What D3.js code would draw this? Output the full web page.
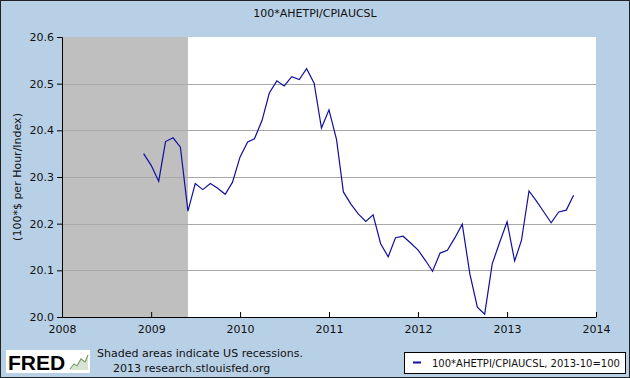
<!DOCTYPE html>
<html>
<head>
<script src="https://d3js.org/d3.v7.min.js"></script>
<style>
body { margin: 0; background: #b8d0e6; }
svg { display: block; font-family: "DejaVu Sans", Verdana, sans-serif; }
</style>
</head>
<body>
<svg id="chart" width="630" height="378"></svg>
<script>
// monthly values, Dec 2008 .. Oct 2013
const startMonth = "2008-12"
const values = [
  20.350,
  20.325, 20.291, 20.376, 20.384, 20.364, 20.227, 20.286, 20.273, 20.286, 20.276, 20.263, 20.289,
  20.343, 20.375, 20.382, 20.421, 20.480, 20.506, 20.495, 20.515, 20.509, 20.532, 20.501, 20.405,
  20.444, 20.380, 20.268, 20.242, 20.221, 20.205, 20.219, 20.157, 20.129, 20.170, 20.173, 20.159,
  20.144, 20.121, 20.098, 20.137, 20.143, 20.170, 20.199, 20.093, 20.021, 20.006, 20.114, 20.159,
  20.204, 20.120, 20.164, 20.270, 20.249, 20.225, 20.202, 20.225, 20.229, 20.261
]
const yTicks = [20.0, 20.1, 20.2, 20.3, 20.4, 20.5, 20.6]
const xYears = [2008, 2009, 2010, 2011, 2012, 2013, 2014]
const recessions = [["2007-12-01", "2009-06-01"]]

const parse = d3.timeParse("%Y-%m")
const first = parse(startMonth)
const data = values.map((v, i) => ({ date: d3.timeMonth.offset(first, i), value: v }))

const svg = d3.select("#chart")
const W = 630, H = 378
const plotL = 62, plotR = 596, plotT = 37, plotB = 317

// outer frame
svg.append("rect").attr("x", 0.5).attr("y", 0.5).attr("width", W - 1).attr("height", H - 1)
  .attr("fill", "#b8d0e6").attr("stroke", "#222")

const x = d3.scaleTime()
  .domain([new Date(2008, 0, 1), new Date(2014, 0, 1)])
  .range([plotL, plotR])
const y = d3.scaleLinear().domain([20.0, 20.6]).range([plotB, plotT])

svg.append("rect").attr("x", plotL).attr("y", plotT)
  .attr("width", plotR - plotL).attr("height", plotB - plotT).attr("fill", "#fff")

// recession shading
const recStart = d => new Date(Math.max(new Date(d[0]), x.domain()[0]))
svg.selectAll(".rec").data(recessions).enter().append("rect")
  .attr("x", d => x(recStart(d)))
  .attr("width", d => x(new Date(d[1])) - x(recStart(d)))
  .attr("y", plotT).attr("height", plotB - plotT)
  .attr("fill", "#bfbfbf")

// grid lines
svg.selectAll(".grid").data(yTicks.slice(1, -1)).enter().append("line")
  .attr("x1", plotL).attr("x2", plotR)
  .attr("y1", d => Math.round(y(d)) + 0.5).attr("y2", d => Math.round(y(d)) + 0.5)
  .attr("stroke", "#a8a8a8").attr("stroke-width", 1)

// line
const line = d3.line().x(d => x(d.date)).y(d => y(d.value))
svg.append("path").datum(data).attr("d", line)
  .attr("fill", "none").attr("stroke", "#1010a0").attr("stroke-width", 1.2)

// y axis
const yAxis = svg.append("g").attr("transform", `translate(${plotL},0)`)
  .call(d3.axisLeft(y).tickValues(yTicks).tickFormat(d3.format(".1f")).tickSizeOuter(0).tickSize(5))
yAxis.selectAll("text").attr("font-size", 11).attr("fill", "#111").attr("font-family", "DejaVu Sans")
yAxis.selectAll("line, path").attr("stroke", "#000")

// x axis
const xAxis = svg.append("g").attr("transform", `translate(0,${plotB})`)
  .call(d3.axisBottom(x).tickValues(xYears.map(yr => new Date(yr, 0, 1)))
    .tickFormat(d3.timeFormat("%Y")).tickSize(-5).tickSizeOuter(0).tickPadding(6))
xAxis.selectAll("text").attr("font-size", 11).attr("fill", "#111").attr("font-family", "DejaVu Sans")
  .attr("dy", "0.9em")
xAxis.selectAll("line, path").attr("stroke", "#000")

// title and axis label
svg.append("text").attr("x", 315).attr("y", 17).attr("text-anchor", "middle")
  .attr("font-size", 11).attr("fill", "#111").text("100*AHETPI/CPIAUCSL")
svg.append("text").attr("transform", `translate(21,${(plotT + plotB) / 2}) rotate(-90)`)
  .attr("text-anchor", "middle").attr("font-size", 11).attr("fill", "#111")
  .text("(100*$ per Hour/Index)")

// footer
const fred = svg.append("g").attr("transform", "translate(6,350)")
fred.append("rect").attr("width", 84).attr("height", 23).attr("fill", "#fff")
fred.append("text").attr("x", 2).attr("y", 20).attr("font-size", 21).attr("font-weight", "bold")
  .attr("font-family", "Liberation Sans, Arial").attr("fill", "#000").text("FRED")
fred.append("path").attr("d", "M64,20 L68,15 L71,17 L75,10 L79,13 L82,6 L82,20 Z")
  .attr("fill", "#c8d8c0").attr("opacity", 0.7)
fred.append("path").attr("d", "M64,19 L68,14 L71,16 L75,9 L79,12 L82,5")
  .attr("fill", "none").attr("stroke", "#7a9a6a").attr("stroke-width", 1.2)

svg.append("text").attr("x", 97).attr("y", 357).attr("font-size", 11).attr("fill", "#111")
  .text("Shaded areas indicate US recessions.")
svg.append("text").attr("x", 113).attr("y", 372).attr("font-size", 11).attr("fill", "#111")
  .text("2013 research.stlouisfed.org")

// legend
svg.append("rect").attr("x", 404.5).attr("y", 352.5).attr("width", 221).attr("height", 21)
  .attr("fill", "#fff").attr("stroke", "#000")
svg.append("line").attr("x1", 413).attr("x2", 421).attr("y1", 362.5).attr("y2", 362.5)
  .attr("stroke", "#1010a0").attr("stroke-width", 2)
svg.append("text").attr("x", 432).attr("y", 367).attr("font-size", 10).attr("fill", "#111")
  .text("100*AHETPI/CPIAUCSL, 2013-10=100")
</script>
</body>
</html>
